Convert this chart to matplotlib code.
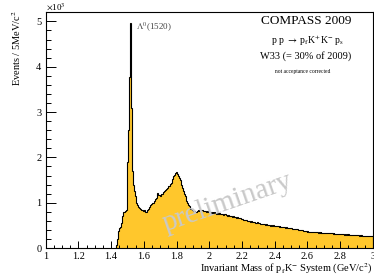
import numpy as np
import matplotlib
matplotlib.use("Agg")
import matplotlib.pyplot as plt
from matplotlib.ticker import MultipleLocator

plt.rcParams['font.family'] = ['Liberation Serif', 'DejaVu Serif']
plt.rcParams['mathtext.fontset'] = 'stix'

# Histogram binning (GeV/c^2)
BIN_START = 1.43
BIN_WIDTH = 0.005

# Counts per 5 MeV bin, 1.430 - 1.995
counts_low = [
    60, 210, 300, 380, 440, 470, 560, 700, 770, 790,
    800, 810, 850, 1250, 1900, 2600, 3780, 4970, 3100, 2450,
    1700, 1400, 1250, 1140, 1060, 1000, 950, 910, 880, 860,
    850, 830, 845, 815, 830, 805, 800, 785, 850, 870,
    900, 915, 945, 965, 990, 1005, 1035, 1045, 1075, 1100,
    1210, 1180, 1160, 1175, 1140, 1200, 1185, 1215, 1240, 1255,
    1275, 1300, 1325, 1345, 1365, 1380, 1420, 1445, 1480, 1530,
    1585, 1620, 1660, 1685, 1670, 1640, 1600, 1550, 1500, 1450,
    1395, 1330, 1265, 1200, 1140, 1085, 1040, 1000, 960, 925,
    900, 872, 860, 842, 822, 812, 800, 790, 802, 810,
    830, 818, 850, 838, 830, 842, 828, 820, 808, 822,
    800, 812, 798, 790,
]

# Counts per 5 MeV bin, 2.000 - 2.995
counts_high = [
    795, 780, 802, 775, 790, 768, 785, 772, 760, 778,
    770, 752, 765, 748, 760, 745, 755, 738, 750, 742,
    728, 740, 715, 725, 700, 718, 705, 712, 695, 702,
    690, 680, 688, 670, 676, 662, 668, 655, 660, 648,
    640, 630, 618, 625, 610, 615, 600, 605, 592, 598,
    580, 588, 570, 575, 565, 572, 560, 556, 565, 550,
    545, 552, 538, 540, 530, 536, 525, 530, 518, 522,
    515, 508, 520, 505, 498, 512, 500, 495, 505, 490,
    488, 495, 480, 478, 485, 470, 476, 468, 472, 460,
    470, 458, 462, 450, 455, 448, 452, 440, 446, 438,
    435, 428, 420, 430, 415, 418, 410, 412, 405, 398,
    400, 392, 388, 395, 380, 384, 376, 370, 378, 365,
    368, 360, 362, 355, 365, 352, 358, 350, 356, 348,
    352, 345, 350, 340, 346, 338, 344, 335, 342, 336,
    340, 332, 338, 328, 335, 330, 326, 334, 322, 330,
    325, 318, 322, 315, 320, 312, 318, 310, 316, 308,
    312, 305, 310, 302, 306, 298, 304, 296, 300, 294,
    300, 292, 298, 290, 294, 286, 292, 284, 288, 282,
    286, 280, 284, 276, 280, 272, 278, 270, 275, 268,
    272, 266, 270, 262, 268, 260, 266, 258, 264, 260,
]

x_tick_labels = ["1", "1.2", "1.4", "1.6", "1.8", "2", "2.2", "2.4", "2.6", "2.8", "3"]
y_tick_labels = ["0", "1", "2", "3", "4", "5"]

values = np.array(counts_low + counts_high, dtype=float)
edges = BIN_START + BIN_WIDTH * np.arange(len(values) + 1)

fig = plt.figure(figsize=(3.74, 2.80), dpi=100)
ax = fig.add_axes([0.122, 0.114, 0.875, 0.842])

ax.stairs(values, edges, fill=True, color='#FFC72C', linewidth=0)
ax.stairs(values, edges, color='black', linewidth=0.8)

ax.set_xlim(1, 3)
ax.set_ylim(0, 5200)

ax.xaxis.set_minor_locator(MultipleLocator(0.05))
ax.yaxis.set_minor_locator(MultipleLocator(200))
ax.set_xticks(np.arange(len(x_tick_labels)) * 0.2 + 1)
ax.set_xticklabels(x_tick_labels)
ax.set_yticks(np.arange(len(y_tick_labels)) * 1000)
ax.set_yticklabels(y_tick_labels)

ax.tick_params(axis='both', which='both', direction='in', top=False, right=False,
               labelsize=7.5, width=0.7)
ax.tick_params(axis='y', which='major', length=7, pad=3)
ax.tick_params(axis='y', which='minor', length=3.5)
ax.tick_params(axis='x', which='major', length=5, pad=2.5)
ax.tick_params(axis='x', which='minor', length=2.5)
for s in ax.spines.values():
    s.set_linewidth(0.8)

# axis labels (ROOT style: right/top aligned)
fig.text(0.997, 0.015, r'Invariant Mass of p$_{\mathrm{f}}$K$^{-}$ System (GeV/c$^{2}$)',
         ha='right', va='bottom', fontsize=7.5)
fig.text(0.045, 0.965, r'Events / 5MeV/c$^{2}$', rotation=90, ha='center', va='top',
         fontsize=7.5)
fig.text(0.124, 0.958, r'$\times$10$^{3}$', ha='left', va='bottom', fontsize=6.5)

# annotations
ax.text(1.555, 4860, r'$\Lambda^{0}$(1520)', ha='left', va='center', fontsize=6.5,
        color='#444444')
fig.text(0.818, 0.925, 'COMPASS 2009', ha='center', va='center', fontsize=9.5)
fig.text(0.822, 0.853, r'p p $\rightarrow$ p$_{\mathrm{f}}$K$^{+}$K$^{-}$ p$_{\mathrm{s}}$',
         ha='center', va='center', fontsize=7)
fig.text(0.818, 0.800, 'W33 (= 30% of 2009)', ha='center', va='center', fontsize=7.5)
fig.text(0.81, 0.745, 'not acceptance corrected', ha='center', va='center', fontsize=4)

ax.text(2.11, 1000, 'preliminary', ha='center', va='center', fontsize=21,
        rotation=19, color='#c9c9c9', zorder=5)

fig.savefig('out.png', dpi=100)
